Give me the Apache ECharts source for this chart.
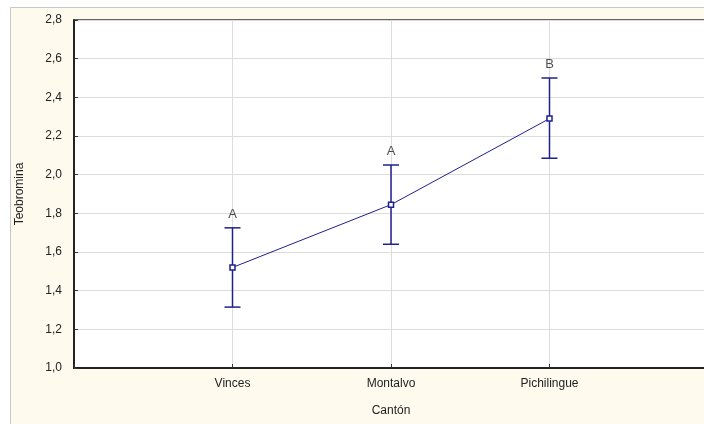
<!DOCTYPE html>
<html><head><meta charset="utf-8">
<script src="https://cdn.jsdelivr.net/npm/echarts@6/dist/echarts.min.js"></script>
<style>html,body{margin:0;padding:0;background:#fff;}#c{width:704px;height:424px;}</style>
</head><body><div id="c"></div>
<script>
const categories = ['Vinces', 'Montalvo', 'Pichilingue'];
const means = [1.52, 1.845, 2.29];
const lowers = [1.315, 1.64, 2.085];
const uppers = [1.725, 2.05, 2.50];
const letters = ['A', 'A', 'B'];
const yTicks = [1.0, 1.2, 1.4, 1.6, 1.8, 2.0, 2.2, 2.4, 2.6, 2.8];

const navy = '#1f1f8f';
const font = 'Liberation Sans, Arial, sans-serif';
const txt = '#222';
const chart = echarts.init(document.getElementById('c'), null, {renderer: 'canvas'});
const pos = categories.map((c, i) => i + 1);
chart.setOption({
  animation: false,
  backgroundColor: '#ffffff',
  graphic: [{type: 'rect', z: -10, shape: {x: 10.5, y: 7.5, width: 700, height: 420},
    style: {fill: '#fefbee', stroke: '#c8c8c8', lineWidth: 1}}],
  grid: {left: 74, top: 20, width: 634, height: 348, outerBoundsMode: 'none', containLabel: false,
    show: true, backgroundColor: '#ffffff', borderColor: '#333', borderWidth: 1.5},
  xAxis: {
    type: 'value', min: 0, max: 4, interval: 1,
    name: 'Cantón', nameLocation: 'middle', nameGap: 37,
    nameTextStyle: {fontFamily: font, fontSize: 12, color: txt},
    axisLine: {show: true, lineStyle: {color: '#222', width: 2}},
    axisTick: {show: true, inside: true, length: 4, lineStyle: {color: '#333'}},
    axisLabel: {fontFamily: font, fontSize: 12, color: txt, margin: 10,
      formatter: v => (v >= 1 && v <= categories.length) ? categories[v - 1] : ''},
    splitLine: {show: true, lineStyle: {color: '#dcdcdc', width: 1}}
  },
  yAxis: {
    type: 'value', min: yTicks[0], max: yTicks[yTicks.length - 1], interval: 0.2,
    name: 'Teobromina', nameLocation: 'middle', nameGap: 48,
    nameTextStyle: {fontFamily: font, fontSize: 12, color: txt},
    axisLine: {show: true, lineStyle: {color: '#222', width: 2}},
    axisTick: {show: true, inside: true, length: 4, lineStyle: {color: '#333'}},
    axisLabel: {fontFamily: font, fontSize: 12, color: txt, margin: 12,
      formatter: v => v.toFixed(1).replace('.', ',')},
    splitLine: {show: true, lineStyle: {color: '#dcdcdc', width: 1}}
  },
  series: [
    {
      type: 'custom',
      data: pos.map((x, i) => [x, lowers[i], uppers[i]]),
      renderItem: function (params, api) {
        const x = api.value(0);
        const lo = api.coord([x, api.value(1)]);
        const hi = api.coord([x, api.value(2)]);
        const w = 8;
        const st = {stroke: navy, lineWidth: 1.5};
        return {type: 'group', children: [
          {type: 'line', shape: {x1: lo[0], y1: lo[1], x2: hi[0], y2: hi[1]}, style: st},
          {type: 'line', shape: {x1: lo[0] - w, y1: lo[1], x2: lo[0] + w, y2: lo[1]}, style: st},
          {type: 'line', shape: {x1: hi[0] - w, y1: hi[1], x2: hi[0] + w, y2: hi[1]}, style: st}
        ]};
      },
      z: 3
    },
    {
      type: 'line',
      data: pos.map((x, i) => [x, means[i]]),
      symbol: 'rect', symbolSize: 5,
      itemStyle: {color: '#ffffff', borderColor: navy, borderWidth: 1.5},
      lineStyle: {color: navy, width: 1},
      z: 4
    },
    {
      type: 'scatter',
      data: pos.map((x, i) => [x, uppers[i]]),
      symbolSize: 0,
      label: {show: true, position: 'top', distance: 7,
        formatter: p => letters[p.dataIndex],
        fontFamily: font, fontSize: 13, color: txt},
      z: 5
    }
  ]
});
</script></body></html>
